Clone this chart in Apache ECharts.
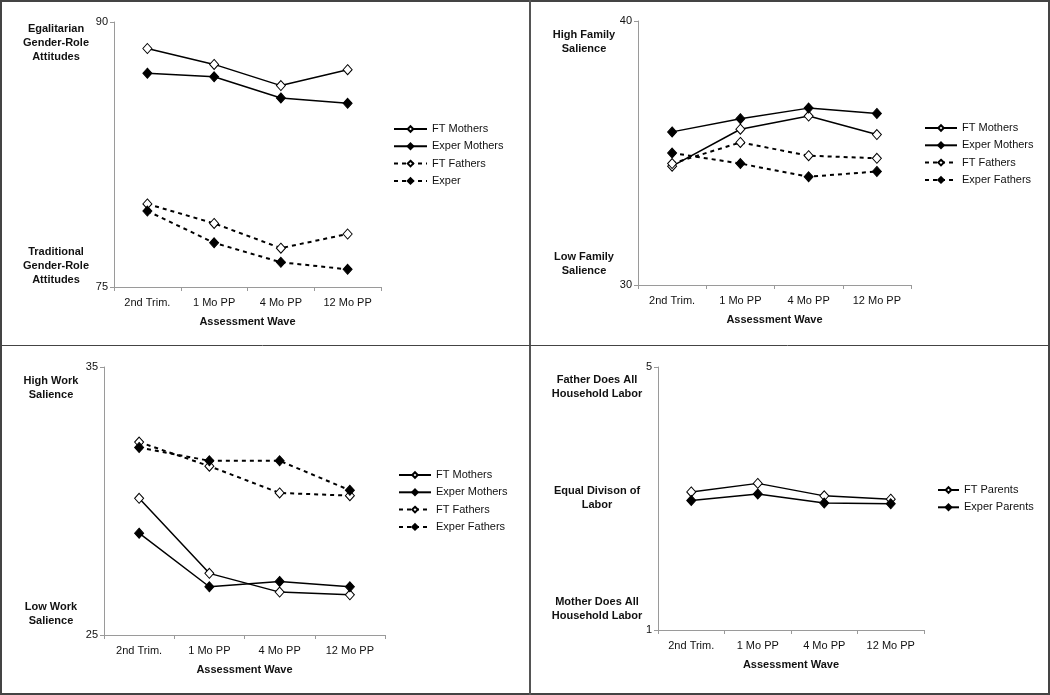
<!DOCTYPE html>
<html>
<head>
<meta charset="utf-8">
<script src="https://cdn.jsdelivr.net/npm/echarts@6/dist/echarts.min.js"></script>
<style>
  html, body { margin: 0; padding: 0; background: #fff; }
  #chart { width: 1050px; height: 695px; }
</style>
</head>
<body>
<div id="chart"></div>
<script>
// assessment waves (x axis of every panel)
var waves = ['2nd Trim.', '1 Mo PP', '4 Mo PP', '12 Mo PP'];

// panel 1: gender-role attitudes
var genderFTMothers = [88.5, 87.6, 86.4, 87.3];
var genderExperMothers = [87.1, 86.9, 85.7, 85.4];
var genderFTFathers = [79.7, 78.6, 77.2, 78.0];
var genderExperFathers = [79.3, 77.5, 76.4, 76.0];

// panel 2: family salience
var familyFTMothers = [34.5, 35.9, 36.4, 35.7];
var familyExperMothers = [35.8, 36.3, 36.7, 36.5];
var familyFTFathers = [34.6, 35.4, 34.9, 34.8];
var familyExperFathers = [35.0, 34.6, 34.1, 34.3];

// panel 3: work salience
var workFTMothers = [30.1, 27.3, 26.6, 26.5];
var workExperMothers = [28.8, 26.8, 27.0, 26.8];
var workFTFathers = [32.2, 31.3, 30.3, 30.2];
var workExperFathers = [32.0, 31.5, 31.5, 30.4];

// panel 4: division of household labor
var laborFTParents = [3.10, 3.23, 3.04, 2.99];
var laborExperParents = [2.97, 3.07, 2.93, 2.92];

// y axis ends per panel
var yEnds = [[75, 90], [30, 40], [25, 35], [1, 5]];

var FONT = '"Liberation Sans", Arial, sans-serif';

var chart = echarts.init(document.getElementById('chart'));

var grids = [
  {left: 114, top: 22, width: 267, height: 265},
  {left: 638, top: 21, width: 273, height: 264},
  {left: 104, top: 367, width: 281, height: 268},
  {left: 658, top: 367, width: 266, height: 263}
];

function xAxisFor(i){
  return {
    type: 'category',
    gridIndex: i,
    data: waves,
    boundaryGap: true,
    name: 'Assessment Wave',
    nameLocation: 'middle',
    nameGap: 29,
    nameTextStyle: {fontFamily: FONT, fontSize: 11, fontWeight: 'bold', color: '#111'},
    axisLine: {lineStyle: {color: '#9a9a9a', width: 1}},
    axisTick: {show: true, length: 4, lineStyle: {color: '#9a9a9a'}},
    axisLabel: {fontFamily: FONT, fontSize: 11, color: '#111', margin: 10},
    splitLine: {show: false}
  }
}

function yAxisFor(i){
  return {
    type: 'value',
    gridIndex: i,
    min: yEnds[i][0],
    max: yEnds[i][1],
    axisLine: {show: true, lineStyle: {color: '#9a9a9a', width: 1}},
    axisTick: {show: true, length: 4, lineStyle: {color: '#9a9a9a'}, customValues: yEnds[i]},
    axisLabel: {fontFamily: FONT, fontSize: 11, color: '#111', margin: 6, customValues: yEnds[i]},
    splitLine: {show: false}
  }
}

function lineSeries(name, data, i, filled, dashed){
  return {
    name: name,
    type: 'line',
    xAxisIndex: i,
    yAxisIndex: i,
    data: data,
    symbol: 'diamond',
    symbolSize: [9, 10],
    showAllSymbol: true,
    animation: false,
    lineStyle: {color: '#000', width: dashed ? 2 : 1.5, type: dashed ? [4, 4] : 'solid'},
    itemStyle: {color: filled ? '#000' : '#fff', borderColor: '#000', borderWidth: 1},
    emphasis: {disabled: true}
  }
}

function legendFor(names, left, top, iconW){
  return {
    orient: 'vertical',
    left: left,
    top: top,
    padding: 0,
    data: names,
    itemWidth: iconW,
    itemHeight: 7,
    itemGap: 5.3,
    selectedMode: false,
    textStyle: {fontFamily: FONT, fontSize: 11, color: '#111', lineHeight: 12}
  }
}

function sideText(x, y, text){
  return {
    type: 'text',
    x: x,
    y: y,
    style: {
      text: text,
      fontFamily: FONT,
      fontSize: 11,
      fontWeight: 'bold',
      lineHeight: 14,
      fill: '#111',
      align: 'center',
      verticalAlign: 'top'
    }
  }
}

var option = {
  backgroundColor: '#fff',
  animation: false,
  grid: grids,
  xAxis: [xAxisFor(0), xAxisFor(1), xAxisFor(2), xAxisFor(3)],
  yAxis: [yAxisFor(0), yAxisFor(1), yAxisFor(2), yAxisFor(3)],
  legend: [
    legendFor(['FT Mothers', 'Exper Mothers', 'FT Fathers', 'Exper'], 393, 123, 33),
    legendFor(['FT Mothers', 'Exper Mothers', 'FT Fathers', 'Exper Fathers'], 924, 122, 32),
    legendFor(['FT Mothers', 'Exper Mothers', 'FT Fathers', 'Exper Fathers'], 398, 469, 32),
    legendFor(['FT Parents', 'Exper Parents'], 937, 484, 21)
  ],
  series: [
    lineSeries('FT Mothers', genderFTMothers, 0, false, false),
    lineSeries('Exper Mothers', genderExperMothers, 0, true, false),
    lineSeries('FT Fathers', genderFTFathers, 0, false, true),
    lineSeries('Exper', genderExperFathers, 0, true, true),

    lineSeries('FT Mothers', familyFTMothers, 1, false, false),
    lineSeries('Exper Mothers', familyExperMothers, 1, true, false),
    lineSeries('FT Fathers', familyFTFathers, 1, false, true),
    lineSeries('Exper Fathers', familyExperFathers, 1, true, true),

    lineSeries('FT Mothers', workFTMothers, 2, false, false),
    lineSeries('Exper Mothers', workExperMothers, 2, true, false),
    lineSeries('FT Fathers', workFTFathers, 2, false, true),
    lineSeries('Exper Fathers', workExperFathers, 2, true, true),

    lineSeries('FT Parents', laborFTParents, 3, false, false),
    lineSeries('Exper Parents', laborExperParents, 3, true, false)
  ],
  graphic: [
    // quadrant frame
    {type: 'rect', shape: {x: 1, y: 1, width: 1048, height: 693}, style: {fill: 'none', stroke: '#444', lineWidth: 2}, silent: true},
    {type: 'line', shape: {x1: 530, y1: 0, x2: 530, y2: 695}, style: {stroke: '#555', lineWidth: 2}, silent: true},
    {type: 'line', shape: {x1: 0, y1: 345.5, x2: 1050, y2: 345.5}, style: {stroke: '#444', lineWidth: 1}, silent: true},

    sideText(56, 22, 'Egalitarian\nGender-Role\nAttitudes'),
    sideText(56, 245, 'Traditional\nGender-Role\nAttitudes'),
    sideText(584, 28, 'High Family\nSalience'),
    sideText(584, 250, 'Low Family\nSalience'),
    sideText(51, 374, 'High Work\nSalience'),
    sideText(51, 600, 'Low Work\nSalience'),
    sideText(597, 373, 'Father Does All\nHousehold Labor'),
    sideText(597, 484, 'Equal Divison of\nLabor'),
    sideText(597, 595, 'Mother Does All\nHousehold Labor')
  ]
};

chart.setOption(option);
</script>
</body>
</html>
